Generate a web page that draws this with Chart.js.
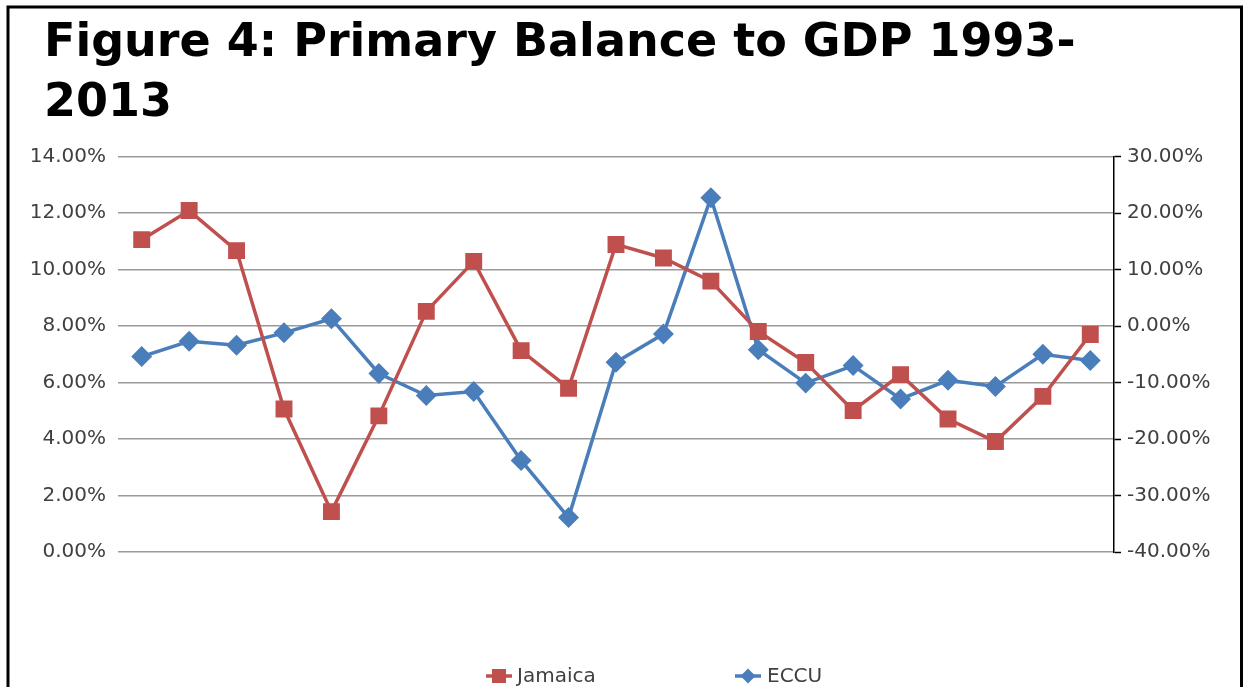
<!DOCTYPE html>
<html>
<head>
<meta charset="utf-8">
<script src="https://cdn.jsdelivr.net/npm/chart.js@4/dist/chart.umd.min.js"></script>
<style>
  html, body { margin: 0; padding: 0; background: #ffffff; }
  #wrap { position: relative; width: 1244px; height: 687px; }
  canvas { display: block; }
</style>
</head>
<body>
<div id="wrap"><canvas id="c" width="1244" height="687"></canvas></div>
<script>
const years = ['1993','1994','1995','1996','1997','1998','1999','2000','2001','2002','2003','2004','2005','2006','2007','2008','2009','2010','2011','2012','2013'];
// Jamaica (left axis, % of GDP)
const jamaica = [11.06, 12.09, 10.67, 5.06, 1.43, 4.82, 8.52, 10.29, 7.13, 5.80, 10.89, 10.41, 9.59, 7.81, 6.71, 5.01, 6.28, 4.71, 3.91, 5.51, 7.70];
// ECCU (right axis, %)
const eccu = [-5.4, -2.7, -3.4, -1.2, 1.3, -8.4, -12.3, -11.6, -23.8, -33.9, -6.4, -1.4, 22.7, -4.2, -10.1, -7.0, -12.9, -9.6, -10.7, -5.0, -6.1];
const leftTicks = [0, 2, 4, 6, 8, 10, 12, 14];
const rightTicks = [-40, -30, -20, -10, 0, 10, 20, 30];
const titleLines = ['Figure 4: Primary Balance to GDP 1993-', '2013'];

const RED = '#C0504D';
const BLUE = '#4A7EBB';
const TXT = '#404040';

const frame = {
  id: 'frame',
  beforeDraw(chart) {
    const ctx = chart.ctx;
    ctx.save();
    ctx.fillStyle = '#fff';
    ctx.fillRect(0, 0, chart.width, chart.height);
    ctx.strokeStyle = '#000';
    ctx.lineWidth = 3;
    ctx.beginPath();
    ctx.moveTo(8, 700);
    ctx.lineTo(8, 7);
    ctx.lineTo(1241.5, 7);
    ctx.lineTo(1241.5, 700);
    ctx.stroke();
    ctx.restore();
  }
};

// shift the title block so it starts where the reference title starts
const titleShift = {
  id: 'titleShift',
  afterLayout(chart) {
    const t = chart.titleBlock;
    if (t) { t.left = 44; }
  }
};

const customLegend = {
  id: 'customLegend',
  afterDraw(chart) {
    const ctx = chart.ctx;
    const items = [
      { ds: chart.data.datasets[0], cx: 499, tx: 517 },
      { ds: chart.data.datasets[1], cx: 748, tx: 767 }
    ];
    const y = 676;
    ctx.save();
    items.forEach(it => {
      ctx.strokeStyle = it.ds.borderColor;
      ctx.lineWidth = 3.5;
      ctx.beginPath();
      ctx.moveTo(it.cx - 13, y);
      ctx.lineTo(it.cx + 13, y);
      ctx.stroke();
      ctx.fillStyle = it.ds.borderColor;
      if (it.ds.pointStyle === 'rect') {
        ctx.fillRect(it.cx - 7, y - 7, 14, 14);
      } else {
        ctx.beginPath();
        ctx.moveTo(it.cx, y - 7.5);
        ctx.lineTo(it.cx + 7.5, y);
        ctx.lineTo(it.cx, y + 7.5);
        ctx.lineTo(it.cx - 7.5, y);
        ctx.closePath();
        ctx.fill();
      }
      ctx.fillStyle = TXT;
      ctx.font = '20px "DejaVu Sans"';
      ctx.textBaseline = 'middle';
      ctx.textAlign = 'left';
      ctx.fillText(it.ds.label, it.tx, y + 1);
    });
    ctx.restore();
  }
};

new Chart(document.getElementById('c'), {
  type: 'line',
  data: {
    labels: years,
    datasets: [
      {
        label: 'Jamaica',
        data: jamaica,
        yAxisID: 'yL',
        borderColor: RED,
        backgroundColor: RED,
        borderWidth: 3.5,
        pointStyle: 'rect',
        pointRadius: 9.5,
        pointHoverRadius: 9.5,
        tension: 0,
        fill: false
      },
      {
        label: 'ECCU',
        data: eccu,
        yAxisID: 'yR',
        borderColor: BLUE,
        backgroundColor: BLUE,
        borderWidth: 3.5,
        pointStyle: 'rectRot',
        pointRadius: 8,
        pointHoverRadius: 8,
        tension: 0,
        fill: false
      }
    ]
  },
  options: {
    responsive: false,
    animation: false,
    devicePixelRatio: 1,
    layout: { padding: { left: 18, right: 16, top: 0, bottom: 135 } },
    plugins: {
      legend: { display: false },
      tooltip: { enabled: false },
      title: {
        display: true,
        text: titleLines,
        align: 'start',
        color: '#000',
        font: { family: '"DejaVu Sans"', size: 46, weight: 'bold', lineHeight: 1.3 },
        padding: { top: 14, bottom: 23 }
      }
    },
    scales: {
      x: {
        type: 'category',
        offset: true,
        display: false
      },
      yL: {
        position: 'left',
        min: 0,
        max: 14,
        afterBuildTicks: s => { s.ticks = leftTicks.map(v => ({ value: v })); },
        afterFit: s => { s.width = 100; },
        border: { display: false },
        grid: { color: '#9a9a9a', lineWidth: 1.6, drawTicks: false },
        ticks: {
          color: TXT,
          padding: 12,
          font: { family: '"DejaVu Sans"', size: 20 },
          callback: v => v.toFixed(2) + '%'
        }
      },
      yR: {
        position: 'right',
        min: -40,
        max: 30,
        afterBuildTicks: s => { s.ticks = rightTicks.map(v => ({ value: v })); },
        afterFit: s => { s.width = 114; },
        border: { display: true, color: '#000', width: 1.5 },
        grid: { drawOnChartArea: false, drawTicks: true, tickLength: 7, tickColor: '#000', tickWidth: 1.5 },
        ticks: {
          color: TXT,
          padding: 6,
          font: { family: '"DejaVu Sans"', size: 20 },
          callback: v => v.toFixed(2) + '%'
        }
      }
    }
  },
  plugins: [frame, titleShift, customLegend]
});
</script>
</body>
</html>
